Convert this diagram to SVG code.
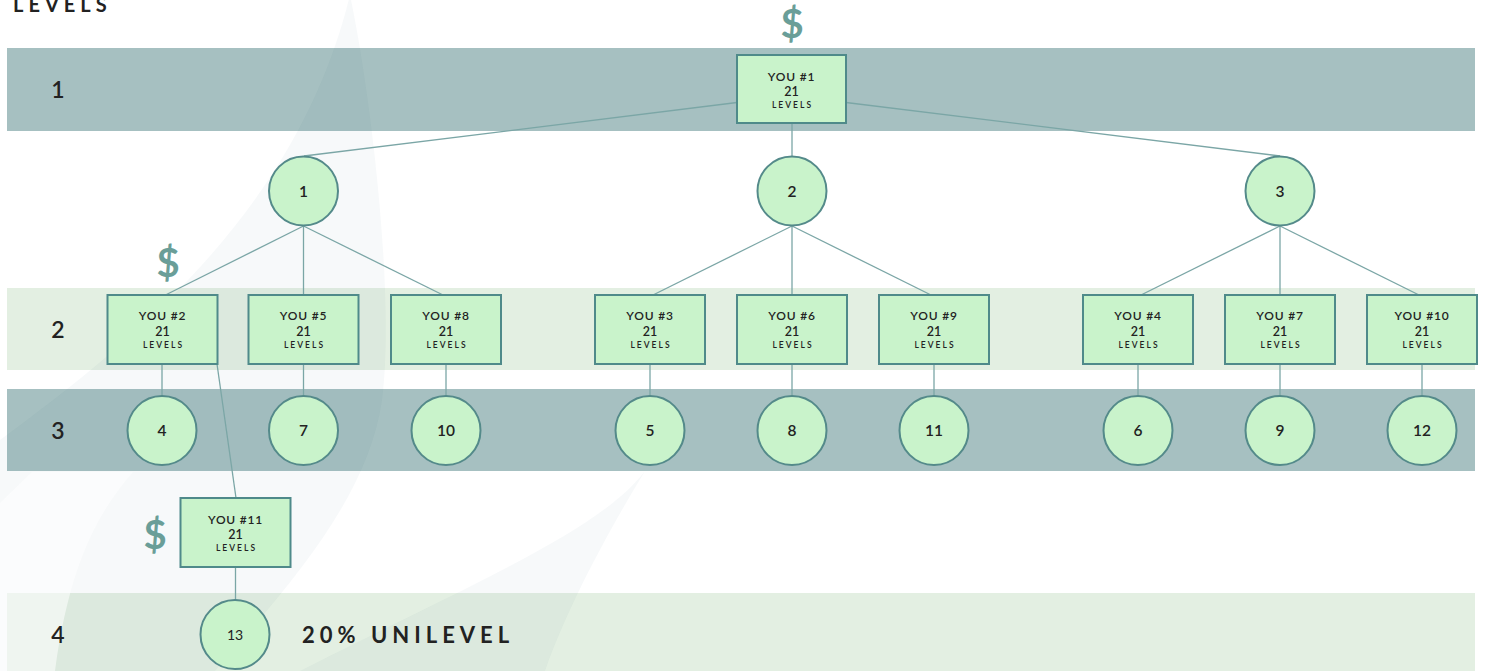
<svg xmlns="http://www.w3.org/2000/svg" width="1486" height="671" viewBox="0 0 1486 671">
<defs>
<style>
.bandDark{fill:#a6c0c1}
.bandLight{fill:#e3efe2}
.swoosh{fill:#1f4766;opacity:0.035}
.box{fill:#c9f3cb;stroke:#4f8a8a;stroke-width:2}
.circ{fill:#c9f3cb;stroke:#548a8a;stroke-width:2}
.conn line{stroke:#7ba6a6;stroke-width:1.3;fill:none}
.t{font-family:Lato,"Liberation Sans",sans-serif;fill:#222;text-anchor:middle}
.you{font-size:12px;letter-spacing:0.8px;font-weight:600}
.num21{font-size:12.5px;font-weight:600}
.lv{font-size:8.5px;letter-spacing:2px;font-weight:600}
.cnum{font-size:15.5px;font-weight:600}
.lvl{font-family:Lato,"Liberation Sans",sans-serif;font-size:23px;font-weight:600;fill:#222;text-anchor:middle}
.dollar{font-family:Lato,"Liberation Sans",sans-serif;font-weight:700;fill:#6a9e98;text-anchor:middle}
</style>
</defs>
<rect width="1486" height="671" fill="#ffffff"/>

<!-- bands -->
<g id="bands">
<rect class="bandDark" x="7" y="48" width="1468" height="83"/>
<rect class="bandLight" x="7" y="288" width="1468" height="82"/>
<rect class="bandDark" x="7" y="389" width="1468" height="82"/>
<rect class="bandLight" x="7" y="593" width="1468" height="78"/>
</g>

<!-- decorative background swooshes -->
<g id="background">
<path class="swoosh" d="M350,-5 C372,100 395,300 382,400 C368,500 285,590 215,671 L0,671 L0,440 C150,330 300,200 350,-5 Z"/>
<path class="swoosh" d="M645,471 C600,530 480,580 300,671 L545,671 C570,600 615,520 645,471 Z"/>
<path fill="#ffffff" opacity="0.55" d="M32,472 L133,472 C100,510 70,560 55,671 L0,671 L0,503 Z"/>
</g>

<!-- title and labels -->
<text x="13" y="11.5" font-family="Lato,'Liberation Sans',sans-serif" font-size="20" font-weight="700" letter-spacing="5" fill="#222">LEVELS</text>
<text class="lvl" x="58" y="98.3">1</text>
<text class="lvl" x="58" y="338">2</text>
<text class="lvl" x="58" y="438.5">3</text>
<text class="lvl" x="58" y="642.5">4</text>
<text x="302" y="642.5" font-family="Lato,'Liberation Sans',sans-serif" font-size="22" font-weight="700" letter-spacing="5" fill="#222">20% UNILEVEL</text>

<text class="dollar" x="792" y="38" font-size="40">$</text>
<text class="dollar" x="168" y="277" font-size="40">$</text>
<text class="dollar" x="155" y="549" font-size="40">$</text>

<!-- connectors -->
<g id="connectors" class="conn">
<line x1="737" y1="102.5" x2="304" y2="156"/>
<line x1="792" y1="124" x2="792" y2="156"/>
<line x1="846" y1="102.5" x2="1280" y2="156"/>
<line x1="303.5" y1="226" x2="165.5" y2="295"/>
<line x1="303.5" y1="226" x2="303.5" y2="295"/>
<line x1="303.5" y1="226" x2="443" y2="295"/>
<line x1="792" y1="226" x2="653" y2="295"/>
<line x1="792" y1="226" x2="792" y2="295"/>
<line x1="792" y1="226" x2="931" y2="295"/>
<line x1="1280" y1="226" x2="1141" y2="295"/>
<line x1="1280" y1="226" x2="1280" y2="295"/>
<line x1="1280" y1="226" x2="1419" y2="295"/>
<line x1="162" y1="364" x2="162" y2="396"/>
<line x1="303.5" y1="364" x2="303.5" y2="396"/>
<line x1="446" y1="364" x2="446" y2="396"/>
<line x1="650" y1="364" x2="650" y2="396"/>
<line x1="792" y1="364" x2="792" y2="396"/>
<line x1="934" y1="364" x2="934" y2="396"/>
<line x1="1138" y1="364" x2="1138" y2="396"/>
<line x1="1280" y1="364" x2="1280" y2="396"/>
<line x1="1422" y1="364" x2="1422" y2="396"/>
<line x1="217" y1="364" x2="236" y2="498"/>
<line x1="235.5" y1="567" x2="235.5" y2="600"/>
</g>

<!-- nodes -->
<g id="you1"><rect class="box" x="737" y="55" width="109" height="68"/>
<text class="t you" x="791.5" y="80.5">YOU #1</text><text class="t num21" x="791.5" y="96">21</text><text class="t lv" x="792.5" y="108">LEVELS</text></g>

<g id="c1"><circle class="circ" cx="303.5" cy="191" r="34.5"/><text class="t cnum" x="303.5" y="196.5">1</text></g>
<g id="c2"><circle class="circ" cx="792" cy="191" r="34.5"/><text class="t cnum" x="792" y="196.5">2</text></g>
<g id="c3"><circle class="circ" cx="1280" cy="191" r="34.5"/><text class="t cnum" x="1280" y="196.5">3</text></g>

<g id="you2"><rect class="box" x="107.5" y="295" width="110" height="69"/>
<text class="t you" x="162.5" y="320">YOU #2</text><text class="t num21" x="162.5" y="335.5">21</text><text class="t lv" x="163.5" y="347.5">LEVELS</text></g>
<g id="you5"><rect class="box" x="248.5" y="295" width="110" height="69"/>
<text class="t you" x="303.5" y="320">YOU #5</text><text class="t num21" x="303.5" y="335.5">21</text><text class="t lv" x="304.5" y="347.5">LEVELS</text></g>
<g id="you8"><rect class="box" x="391" y="295" width="110" height="69"/>
<text class="t you" x="446" y="320">YOU #8</text><text class="t num21" x="446" y="335.5">21</text><text class="t lv" x="447" y="347.5">LEVELS</text></g>
<g id="you3"><rect class="box" x="595" y="295" width="110" height="69"/>
<text class="t you" x="650" y="320">YOU #3</text><text class="t num21" x="650" y="335.5">21</text><text class="t lv" x="651" y="347.5">LEVELS</text></g>
<g id="you6"><rect class="box" x="737" y="295" width="110" height="69"/>
<text class="t you" x="792" y="320">YOU #6</text><text class="t num21" x="792" y="335.5">21</text><text class="t lv" x="793" y="347.5">LEVELS</text></g>
<g id="you9"><rect class="box" x="879" y="295" width="110" height="69"/>
<text class="t you" x="934" y="320">YOU #9</text><text class="t num21" x="934" y="335.5">21</text><text class="t lv" x="935" y="347.5">LEVELS</text></g>
<g id="you4"><rect class="box" x="1083" y="295" width="110" height="69"/>
<text class="t you" x="1138" y="320">YOU #4</text><text class="t num21" x="1138" y="335.5">21</text><text class="t lv" x="1139" y="347.5">LEVELS</text></g>
<g id="you7"><rect class="box" x="1225" y="295" width="110" height="69"/>
<text class="t you" x="1280" y="320">YOU #7</text><text class="t num21" x="1280" y="335.5">21</text><text class="t lv" x="1281" y="347.5">LEVELS</text></g>
<g id="you10"><rect class="box" x="1367" y="295" width="110" height="69"/>
<text class="t you" x="1422" y="320">YOU #10</text><text class="t num21" x="1422" y="335.5">21</text><text class="t lv" x="1423" y="347.5">LEVELS</text></g>

<g id="c4"><circle class="circ" cx="162" cy="430.5" r="34.5"/><text class="t cnum" x="162" y="436">4</text></g>
<g id="c7"><circle class="circ" cx="303.5" cy="430.5" r="34.5"/><text class="t cnum" x="303.5" y="436">7</text></g>
<g id="c10"><circle class="circ" cx="446" cy="430.5" r="34.5"/><text class="t cnum" x="446" y="436">10</text></g>
<g id="c5"><circle class="circ" cx="650" cy="430.5" r="34.5"/><text class="t cnum" x="650" y="436">5</text></g>
<g id="c8"><circle class="circ" cx="792" cy="430.5" r="34.5"/><text class="t cnum" x="792" y="436">8</text></g>
<g id="c11"><circle class="circ" cx="934" cy="430.5" r="34.5"/><text class="t cnum" x="934" y="436">11</text></g>
<g id="c6"><circle class="circ" cx="1138" cy="430.5" r="34.5"/><text class="t cnum" x="1138" y="436">6</text></g>
<g id="c9"><circle class="circ" cx="1280" cy="430.5" r="34.5"/><text class="t cnum" x="1280" y="436">9</text></g>
<g id="c12"><circle class="circ" cx="1422" cy="430.5" r="34.5"/><text class="t cnum" x="1422" y="436">12</text></g>

<g id="you11"><rect class="box" x="180.5" y="498" width="110" height="69"/>
<text class="t you" x="235.5" y="523.5">YOU #11</text><text class="t num21" x="235.5" y="538.5">21</text><text class="t lv" x="236.5" y="550.5">LEVELS</text></g>

<g id="c13"><circle class="circ" cx="235" cy="634.5" r="34.5"/><text class="t" x="235" y="640" font-size="14">13</text></g>
</svg>
